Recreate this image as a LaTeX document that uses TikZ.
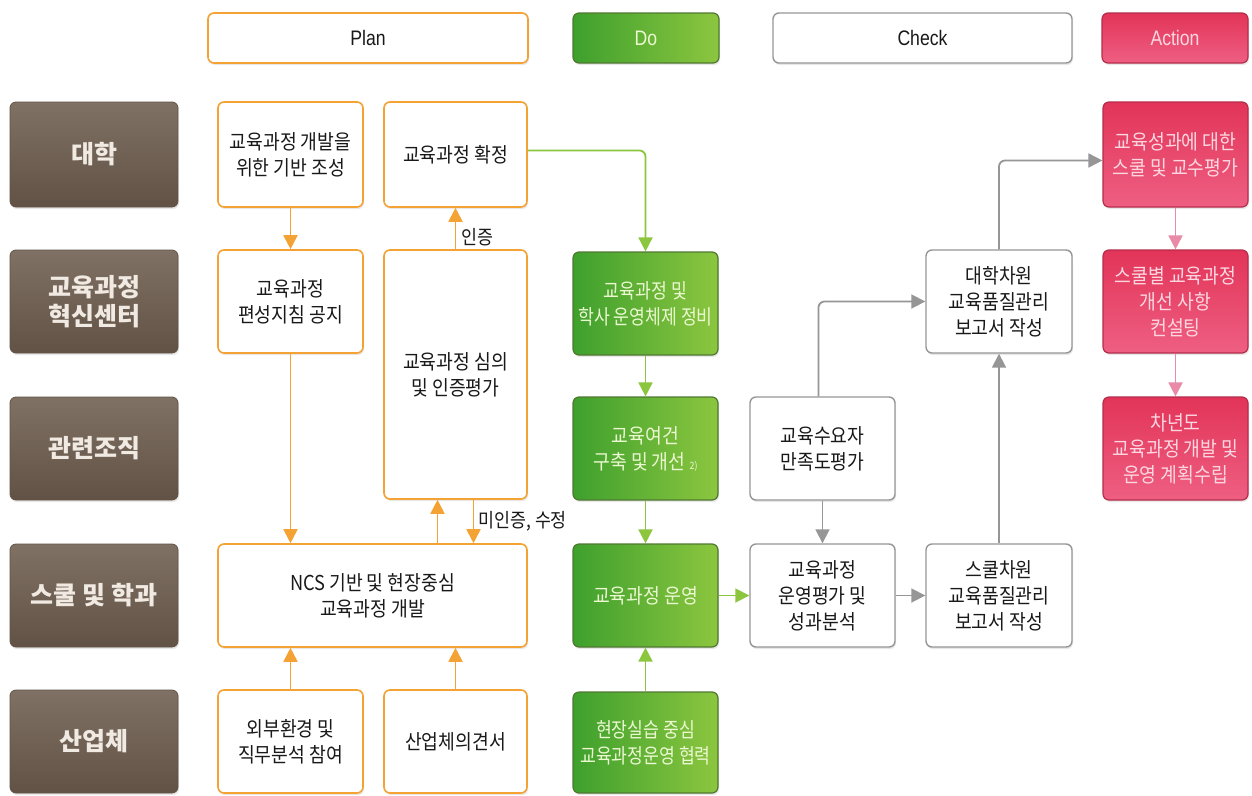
\documentclass[tikz,border=0pt]{standalone}
\usepackage{fontspec}
\setmainfont{Liberation Sans}
\newfontfamily\kr[FakeStretch=0.89]{Noto Sans CJK KR}
\newfontfamily\krn[FakeStretch=0.84]{Noto Sans CJK KR}
\newfontfamily\krl[FakeStretch=1.0]{Noto Sans CJK KR}
\newfontfamily\hdr[FakeStretch=0.84]{Liberation Sans}
\usetikzlibrary{arrows.meta,shadows}
\definecolor{orc}{RGB}{245,162,52}
\definecolor{gra}{RGB}{150,150,150}
\definecolor{grnl}{RGB}{140,198,63}
\definecolor{grnd}{RGB}{62,160,45}
\definecolor{grnb}{RGB}{80,120,50}
\definecolor{pnkt}{RGB}{226,52,88}
\definecolor{pnkb}{RGB}{238,95,130}
\definecolor{pnkd}{RGB}{180,45,75}
\definecolor{pnka}{RGB}{232,138,168}
\definecolor{brt}{RGB}{128,113,101}
\definecolor{brb}{RGB}{98,82,70}
\definecolor{txt}{RGB}{25,25,25}
\newcommand\bxf{\kr\fontsize{20.5}{26}\selectfont}
\newcommand\bxn{\krn\fontsize{20.5}{26}\selectfont}
\newcommand\labf{\krl\bfseries\fontsize{25}{29}\selectfont}
\newcommand\hdf{\hdr\fontsize{21}{25}\selectfont}
\newcommand\bx[7]{\node[#2, minimum width={(#5-#3)*1pt}, minimum height={(#6-#4)*1pt}] (#1) at ({(#3+#5)/2},{(#4+#6)/2}) {#7};}
\tikzset{
  base/.style={inner sep=0pt, align=center, rounded corners=6pt,
    drop shadow={shadow xshift=1pt, shadow yshift=-2pt, opacity=0.18}},
  obox/.style={base, draw=orc, line width=1.6pt, fill=white, font=\bxf, text=txt},
  gbox/.style={base, draw=gra, line width=1.4pt, fill=white, font=\bxf, text=txt},
  dobox/.style={base, draw=grnb, line width=1.2pt, left color=grnd, right color=grnl, font=\bxf, text={rgb,255:red,235;green,248;blue,210}},
  actbox/.style={base, draw=pnkd, line width=1.2pt, top color=pnkt, bottom color=pnkb, font=\bxf, text={rgb,255:red,252;green,215;blue,225}},
  labbox/.style={base, draw=brb, line width=0.8pt, top color=brt, bottom color=brb, font=\labf, text={rgb,255:red,240;green,234;blue,226}},
  arr/.style={line width=1.8pt, -{Triangle[length=14pt,width=14pt]}},
  oarr/.style={arr, draw=orc},
  garr/.style={arr, draw=grnl},
  yarr/.style={arr, draw=gra},
  parr/.style={arr, draw=pnka},
  note/.style={font=\kr\fontsize{19.5}{22}\selectfont, text=txt, inner sep=2pt}
}
\begin{document}
\begin{tikzpicture}[x=1pt,y=-1pt]
\fill[white] (0,0) rectangle (1252,795);
\useasboundingbox (0,0) rectangle (1252,795);
% headers
\bx{ph}{obox,font=\hdf}{208}{13}{528}{63}{Plan}
\bx{dh}{dobox,font=\hdf}{573}{13}{719}{63}{Do}
\bx{ch}{gbox,font=\hdf}{773}{13}{1072}{63}{Check}
\bx{ah}{actbox,font=\hdf}{1102}{13}{1248}{63}{Action}
% row labels
\bx{l1}{labbox}{10}{102}{178}{207}{대학}
\bx{l2}{labbox}{10}{250}{178}{353}{교육과정\\혁신센터}
\bx{l3}{labbox}{10}{397}{178}{500}{관련조직}
\bx{l4}{labbox}{10}{544}{178}{647}{스쿨 및 학과}
\bx{l5}{labbox}{10}{690}{178}{793}{산업체}
% plan
\bx{c1r1}{obox}{218}{102}{363}{207}{교육과정 개발을\\위한 기반 조성}
\bx{hw}{obox}{384}{102}{527}{207}{교육과정 확정}
\bx{c1r2}{obox}{218}{250}{363}{353}{교육과정\\편성지침 공지}
\bx{sim}{obox}{384}{250}{527}{499}{교육과정 심의\\및 인증평가}
\bx{ncs}{obox}{218}{544}{527}{647}{NCS 기반 및 현장중심\\교육과정 개발}
\bx{c1r5}{obox}{218}{690}{363}{793}{외부환경 및\\직무분석 참여}
\bx{c2r5}{obox}{384}{690}{527}{793}{산업체의견서}
% do
\bx{d2}{dobox,font=\bxn}{573}{252}{718}{355}{교육과정 및\\학사 운영체제 정비}
\bx{d3}{dobox}{573}{397}{718}{500}{교육여건\\구축 및 개선 {\fontsize{10}{12}\selectfont 2)}}
\bx{d4}{dobox}{573}{544}{718}{647}{교육과정 운영}
\bx{d5}{dobox,font=\bxn}{573}{692}{718}{793}{현장실습 중심\\교육과정운영 협력}
% check
\bx{k13}{gbox}{750}{397}{895}{500}{교육수요자\\만족도평가}
\bx{k14}{gbox}{750}{544}{895}{647}{교육과정\\운영평가 및\\성과분석}
\bx{k22}{gbox}{926}{250}{1072}{353}{대학차원\\교육품질관리\\보고서 작성}
\bx{k24}{gbox}{926}{544}{1072}{647}{스쿨차원\\교육품질관리\\보고서 작성}
% action
\bx{a1}{actbox}{1103}{102}{1248}{207}{교육성과에 대한\\스쿨 및 교수평가}
\bx{a2}{actbox}{1103}{250}{1248}{353}{스쿨별 교육과정\\개선 사항\\컨설팅}
\bx{a3}{actbox}{1103}{397}{1248}{500}{차년도\\교육과정 개발 및\\운영 계획수립}
% plan arrows
\draw[oarr] (c1r1.south) -- (c1r2.north);
\draw[oarr] (c1r2.south) -- (c1r2.south |- ncs.north);
\draw[oarr] ([xshift=-18pt]sim.south |- ncs.north) -- ([xshift=-18pt]sim.south);
\draw[oarr] ([xshift=18pt]sim.south) -- ([xshift=18pt]sim.south |- ncs.north)
  node[note, pos=0.5, anchor=west, xshift=2pt] (nt2) {미인증, 수정};
\draw[oarr] (sim.north) -- (hw.south) node[note, pos=0.3, anchor=west, xshift=3pt] (nt1) {인증};
\draw[oarr] (c1r5.north) -- (c1r5.north |- ncs.south);
\draw[oarr] (c2r5.north) -- (c2r5.north |- ncs.south);
% do arrows
\draw[garr, rounded corners=6pt] ([yshift=4pt]hw.east) -| (d2.north);
\draw[garr] (d2.south) -- (d3.north);
\draw[garr] (d3.south) -- (d4.north);
\draw[garr] (d5.north) -- (d4.south);
\draw[garr] (d4.east) -- (k14.west);
% check arrows
\draw[yarr] (k14.east) -- (k24.west);
\draw[yarr] (k13.south) -- (k14.north);
\draw[yarr, rounded corners=6pt] ([xshift=-4pt]k13.north) |- (k22.west);
\draw[yarr] (k24.north) -- (k22.south);
\draw[yarr, rounded corners=6pt] (k22.north) |- ([yshift=-6pt]a1.west);
% action arrows
\draw[parr] (a1.south) -- (a2.north);
\draw[parr] (a2.south) -- (a3.north);
\end{tikzpicture}
\end{document}
